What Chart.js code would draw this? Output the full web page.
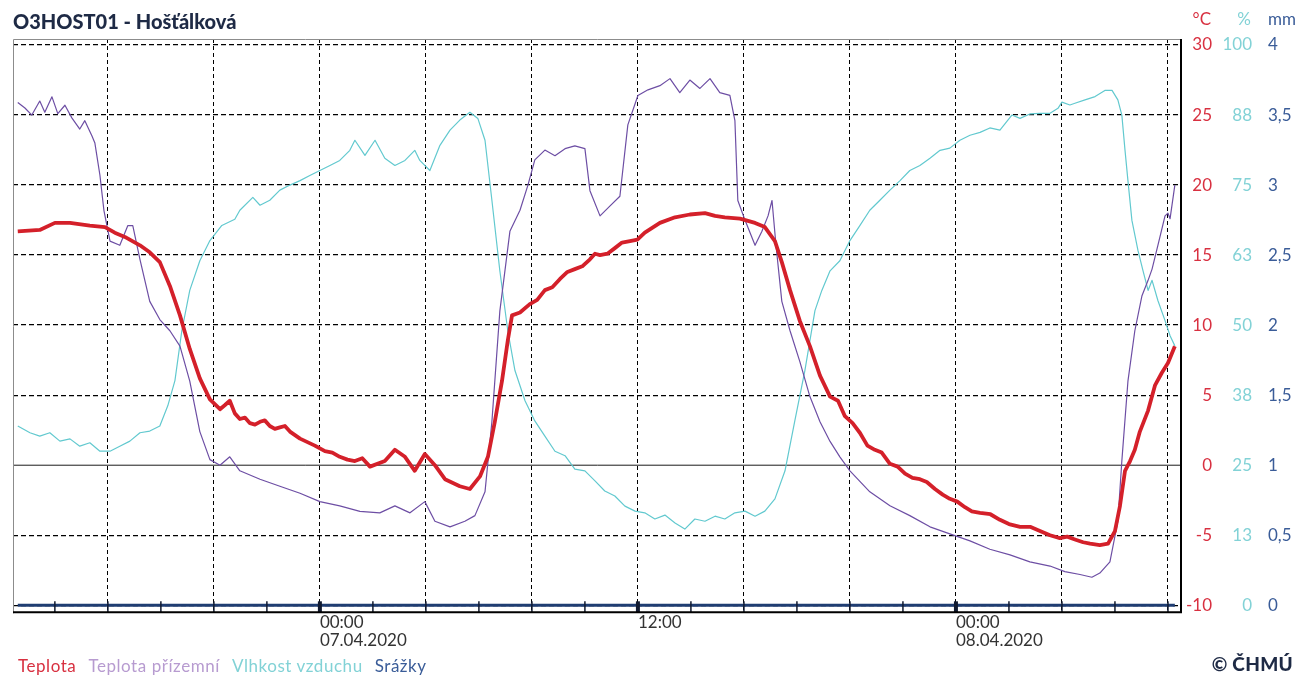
<!DOCTYPE html>
<html>
<head>
<meta charset="utf-8">
<script src="https://cdn.jsdelivr.net/npm/chart.js@4.4.1/dist/chart.umd.min.js"></script>
<style>
  html, body { margin: 0; padding: 0; background: #fff; }
  #wrap { position: relative; width: 1298px; height: 675px; overflow: hidden; }
  #c { position: absolute; left: 0; top: 0; }
  #legend { position: absolute; left: 18px; top: 655px; font: 17px Lato, sans-serif; letter-spacing: 0.55px; white-space: nowrap; }
  #legend span { margin-right: 12px; }
  #copy { position: absolute; right: 5px; top: 652px; font: 900 19px Lato, sans-serif; color: #1e2a45; letter-spacing: 0.3px; }
</style>
</head>
<body>
<div id="wrap">
  <canvas id="c" width="1298" height="675"></canvas>
  <div id="legend"></div>
  <div id="copy">© ČHMÚ</div>
</div>
<script>
// ---- Data (time in hours relative to 07.04.2020 00:00) ----
const titleText = 'O3HOST01 - Hošťálková';
const seriesNames = ['Teplota', 'Teplota přízemní', 'Vlhkost vzduchu', 'Srážky'];

const tempTimes = [-11.40,-10.57,-10.00,-9.43,-8.68,-8.11,-7.74,-7.36,-6.79,-6.42,-6.04,-5.66,-5.28,-4.91,-4.53,-4.15,-3.77,-3.58,-3.40,-3.21,-3.02,-2.83,-2.64,-2.45,-2.26,-2.08,-1.89,-1.70,-1.51,-1.32,-1.13,-0.75,-0.19,0.19,0.47,0.75,1.04,1.32,1.60,1.89,2.45,2.83,3.21,3.58,3.96,4.34,4.72,5.28,5.66,6.04,6.34,6.60,6.87,7.09,7.25,7.55,7.92,8.20,8.49,8.77,9.06,9.34,9.62,9.90,10.19,10.38,10.57,10.85,11.13,11.40,11.70,11.98,12.26,12.83,13.40,13.96,14.53,14.91,15.28,15.85,16.42,16.79,17.17,17.43,17.74,18.11,18.49,18.87,19.25,19.55,19.81,20.10,20.38,20.66,20.94,21.20,21.51,21.80,22.08,22.36,22.64,22.90,23.21,23.50,23.77,24.05,24.34,24.60,24.91,25.30,25.66,26.00,26.42,26.80,27.17,27.55,27.92,28.20,28.49,28.80,29.06,29.43,29.74,30.00,30.19,30.38,30.57,30.75,30.94,31.25,31.51,31.77,32.00,32.26];
const tempValues = [16.7,16.8,17.3,17.3,17.1,17.0,16.6,16.3,15.7,15.2,14.5,12.8,10.7,8.3,6.2,4.7,4.0,4.3,4.6,3.7,3.3,3.4,3.0,2.9,3.1,3.2,2.8,2.6,2.7,2.8,2.4,1.9,1.4,1.0,0.9,0.6,0.4,0.3,0.5,-0.1,0.3,1.1,0.6,-0.4,0.8,0.0,-1.0,-1.5,-1.7,-0.8,0.6,3.1,6.0,8.9,10.7,10.9,11.5,11.8,12.5,12.7,13.3,13.8,14.0,14.2,14.7,15.1,15.0,15.1,15.5,15.9,16.0,16.1,16.6,17.3,17.7,17.9,18.0,17.8,17.7,17.6,17.3,17.0,16.0,14.5,12.5,10.3,8.5,6.4,4.9,4.6,3.5,3.0,2.3,1.4,1.1,0.9,0.1,-0.1,-0.6,-0.9,-1.0,-1.2,-1.7,-2.1,-2.4,-2.6,-3.0,-3.3,-3.4,-3.5,-3.9,-4.2,-4.4,-4.4,-4.7,-5.0,-5.2,-5.1,-5.3,-5.5,-5.6,-5.7,-5.6,-4.7,-2.9,-0.4,0.3,1.1,2.4,3.9,5.7,6.6,7.3,8.5];

const groundTimes = [-11.40,-11.13,-10.87,-10.57,-10.38,-10.11,-9.89,-9.62,-9.36,-9.06,-8.87,-8.60,-8.49,-8.30,-8.15,-7.92,-7.55,-7.25,-7.06,-6.79,-6.42,-6.04,-5.66,-5.28,-4.91,-4.53,-4.15,-3.77,-3.40,-3.02,-2.26,-1.51,-0.75,0.00,0.75,1.51,2.26,2.83,3.40,3.96,4.34,4.91,5.47,5.85,6.23,6.49,6.79,7.17,7.55,7.85,8.11,8.49,8.87,9.25,9.62,10.00,10.19,10.57,10.94,11.32,11.62,12.00,12.38,12.83,13.21,13.58,13.96,14.34,14.72,15.09,15.47,15.66,15.77,16.04,16.42,16.68,16.91,17.06,17.21,17.43,17.74,18.11,18.49,18.87,19.25,19.62,20.00,20.75,21.51,22.26,23.02,23.77,24.53,25.28,26.04,26.79,27.55,28.11,28.68,29.13,29.43,29.81,30.11,30.26,30.49,30.75,31.02,31.25,31.40,31.62,31.89,32.00,32.08,32.26];
const groundValues = [25.9,25.5,25.0,26.0,25.2,26.3,25.1,25.7,24.8,24.0,24.6,23.5,23.0,20.7,18.2,16.0,15.7,17.1,17.1,14.7,11.7,10.4,9.6,8.5,6.0,2.4,0.4,0.0,0.6,-0.4,-1.0,-1.5,-2.0,-2.6,-2.9,-3.3,-3.4,-2.9,-3.4,-2.6,-4.0,-4.4,-4.0,-3.6,-1.9,3.1,11.0,16.7,18.2,20.0,21.8,22.5,22.1,22.6,22.8,22.6,19.6,17.8,18.5,19.2,24.3,26.4,26.8,27.1,27.6,26.6,27.5,26.9,27.6,26.6,26.4,24.6,18.9,17.5,15.7,16.7,17.8,18.9,15.7,11.7,9.6,7.4,4.9,3.1,1.7,0.6,-0.4,-1.9,-2.9,-3.6,-4.4,-4.9,-5.4,-6.0,-6.4,-6.9,-7.2,-7.6,-7.8,-8.0,-7.7,-6.9,-4.0,0.3,6.0,9.6,12.1,13.2,14.0,15.7,17.8,18.0,17.6,20.0];

const humTimes = [-11.40,-10.94,-10.57,-10.19,-9.81,-9.43,-9.06,-8.68,-8.30,-7.92,-7.55,-7.17,-6.79,-6.42,-6.04,-5.74,-5.47,-5.21,-4.91,-4.53,-4.15,-3.70,-3.21,-3.02,-2.53,-2.26,-1.89,-1.51,-1.13,-0.75,-0.38,0.00,0.38,0.75,1.13,1.32,1.70,2.08,2.45,2.83,3.21,3.58,3.77,4.15,4.53,4.91,5.28,5.66,5.96,6.23,6.49,6.79,7.09,7.36,7.74,8.11,8.49,8.87,9.25,9.62,10.00,10.38,10.75,11.13,11.51,11.89,12.26,12.64,13.02,13.40,13.77,14.15,14.53,14.91,15.28,15.66,16.04,16.42,16.79,17.17,17.55,17.92,18.30,18.68,18.94,19.25,19.62,20.00,20.38,20.75,21.13,21.51,21.89,22.26,22.64,23.02,23.40,23.77,24.15,24.53,24.91,25.28,25.66,26.11,26.42,26.79,27.17,27.55,27.85,28.00,28.30,28.49,28.87,29.25,29.62,29.89,30.11,30.26,30.38,30.49,30.64,30.87,31.06,31.25,31.40,31.62,31.89,32.08,32.26];
const humValues = [32.0,30.8,30.2,30.8,29.3,29.7,28.4,29.0,27.5,27.5,28.4,29.3,30.8,31.1,32.0,35.6,40.1,49.0,56.2,61.5,65.1,67.8,68.9,70.5,72.8,71.4,72.3,74.1,75.0,75.8,76.7,77.6,78.5,79.4,81.2,83.0,80.3,83.0,79.8,78.5,79.4,81.2,79.4,77.6,82.1,84.8,86.6,88.0,86.9,83.0,72.3,59.7,49.0,41.9,36.5,32.9,30.2,27.5,26.7,24.3,24.0,22.2,20.4,19.5,17.7,16.8,16.5,15.4,16.1,14.7,13.6,15.4,15.0,15.9,15.4,16.5,16.8,15.9,16.8,19.0,24.0,32.9,41.9,52.6,56.2,59.7,61.5,65.1,67.8,70.5,72.3,74.1,75.8,77.6,78.5,79.8,81.2,81.6,83.0,83.9,84.4,85.2,84.8,87.5,86.9,87.7,87.8,87.8,88.7,89.8,89.3,89.6,90.2,90.8,91.9,91.9,90.2,87.5,81.2,75.8,68.7,63.3,59.7,56.2,58.0,54.4,50.8,48.1,46.3];

const rainTimes = [-11.40,-8,-4,0,4,8,12,16,20,24,28,32.26];
const rainValues = [0,0,0,0,0,0,0,0,0,0,0,0];

const tempTicks = [-10,-5,0,5,10,15,20,25,30];
const humTicks = [0,12.5,25,37.5,50,62.5,75,87.5,100];
const rainTicks = [0,0.5,1,1.5,2,2.5,3,3.5,4];
const timeTicks = [-10,-8,-6,-4,-2,0,2,4,6,8,10,12,14,16,18,20,22,24,26,28,30,32];
const timeLabels = { 0: ['00:00', '07.04.2020'], 12: '12:00', 24: ['00:00', '08.04.2020'] };

// ---- Styling ----
const C_TEMP = '#d4202a', C_GROUND = '#6d4ea4', C_HUM = '#62c9cf', C_RAIN = '#1f3d72';
const L_TEMP = '#d83040', L_GROUND = '#b79bd0', L_HUM = '#82d2d6', L_RAIN = '#3a5c98';
const FONT = 'Lato, "Noto Sans", sans-serif';

function padRange(lo, hi) {
  const span = hi - lo;
  return { min: lo - span * 8 / 559, max: hi + span * 6 / 559 };
}
const rT = padRange(-10, 30), rH = padRange(0, 100), rR = padRange(0, 4);
const pts = (ts, vs) => ts.map((t, i) => ({ x: t, y: vs[i] }));

// legend (HTML text)
const legendColors = [L_TEMP, L_GROUND, L_HUM, L_RAIN];
document.getElementById('legend').innerHTML = seriesNames.map((n, i) =>
  `<span style="color:${legendColors[i]}">${n}</span>`).join('');

const extras = {
  id: 'extras',
  beforeDatasetsDraw(chart) {
    const { ctx, chartArea: a } = chart;
    const y0 = chart.scales.yT.getPixelForValue(0);
    ctx.save();
    ctx.strokeStyle = '#1a1a1a';
    ctx.lineWidth = 1;
    ctx.beginPath(); ctx.moveTo(a.left, y0); ctx.lineTo(a.right, y0); ctx.stroke();
    ctx.restore();
  },
  afterDatasetsDraw(chart) {
    const { ctx, chartArea: a } = chart;
    const xs = chart.scales.x;
    ctx.save();
    ctx.strokeStyle = '#111a30';
    xs.ticks.forEach(t => {
      const px = xs.getPixelForValue(t.value);
      ctx.lineWidth = (t.value % 12 === 0) ? 4 : 1.5;
      ctx.beginPath(); ctx.moveTo(px, a.bottom - 12); ctx.lineTo(px, a.bottom - 1); ctx.stroke();
    });
    // frame
    ctx.lineWidth = 1;
    ctx.strokeStyle = '#8c8c8c';
    ctx.beginPath(); ctx.moveTo(a.left + 0.5, a.bottom); ctx.lineTo(a.left + 0.5, a.top + 0.5); ctx.lineTo(a.right, a.top + 0.5); ctx.stroke();
    ctx.lineWidth = 2;
    ctx.strokeStyle = '#000';
    ctx.beginPath(); ctx.moveTo(a.right - 1, a.top); ctx.lineTo(a.right - 1, a.bottom - 1); ctx.lineTo(a.left, a.bottom - 1); ctx.stroke();
    ctx.restore();
  },
  afterDraw(chart) {
    const ctx = chart.ctx;
    ctx.save();
    ctx.font = '17px ' + FONT;
    ctx.textBaseline = 'middle';
    ctx.textAlign = 'right';
    ctx.fillStyle = L_TEMP; ctx.fillText('°C', 1211, 20);
    ctx.fillStyle = L_HUM; ctx.fillText('%', 1251, 20);
    ctx.textAlign = 'left';
    ctx.fillStyle = L_RAIN; ctx.fillText('mm', 1268, 20);
    ctx.restore();
  }
};

const setTicks = (arr) => (scale) => { scale.ticks = arr.map(v => ({ value: v })); };
const tickFont = { family: FONT, size: 17 };

new Chart(document.getElementById('c'), {
  type: 'line',
  data: {
    datasets: [
      { label: seriesNames[0], data: pts(tempTimes, tempValues), yAxisID: 'yT', borderColor: C_TEMP, borderWidth: 3.8, order: 0 },
      { label: seriesNames[3], data: pts(rainTimes, rainValues), yAxisID: 'yR', borderColor: C_RAIN, borderWidth: 3, order: 1 },
      { label: seriesNames[1], data: pts(groundTimes, groundValues), yAxisID: 'yT', borderColor: C_GROUND, borderWidth: 1.2, order: 2 },
      { label: seriesNames[2], data: pts(humTimes, humValues), yAxisID: 'yH', borderColor: C_HUM, borderWidth: 1.2, order: 3 }
    ]
  },
  options: {
    responsive: false,
    animation: false,
    devicePixelRatio: 1,
    elements: { point: { radius: 0 }, line: { tension: 0, borderJoinStyle: 'round' } },
    layout: { padding: { left: 13, right: 0, top: 0, bottom: 26 } },
    plugins: {
      legend: { display: false },
      tooltip: { enabled: false },
      title: {
        display: true, text: titleText, align: 'start', color: '#1e2a45',
        font: { family: FONT, size: 20, weight: '900', lineHeight: 1.1 },
        padding: { top: 12, bottom: 5 }
      }
    },
    scales: {
      x: {
        type: 'linear', position: 'bottom', min: -11.58, max: 32.53,
        afterBuildTicks: setTicks(timeTicks),
        ticks: {
          autoSkip: false, maxRotation: 0, align: 'start', padding: 0, color: '#333',
          font: { family: FONT, size: 17, lineHeight: 1.05 },
          callback: (v) => timeLabels[v] || ''
        },
        grid: { color: (c) => (c.tick && c.tick.value % 4 === 0) ? '#000' : 'rgba(0,0,0,0)', lineWidth: 1, drawTicks: false, tickLength: 0 },
        border: { display: false, dash: [4, 3] }
      },
      yT: {
        position: 'right', min: rT.min, max: rT.max,
        afterBuildTicks: setTicks(tempTicks),
        afterFit: (s) => { s.width = 30; },
        ticks: { color: L_TEMP, crossAlign: 'far', padding: 0, font: tickFont, callback: (v) => String(v) },
        grid: { color: (c) => (c.tick && c.tick.value === 0) ? 'rgba(0,0,0,0)' : '#000', lineWidth: 1.3, drawTicks: false, tickLength: 0 },
        border: { display: false, dash: [5, 3] }
      },
      yH: {
        position: 'right', min: rH.min, max: rH.max,
        afterBuildTicks: setTicks(humTicks),
        afterFit: (s) => { s.width = 40; },
        ticks: { color: L_HUM, crossAlign: 'far', padding: 0, font: tickFont, callback: (v) => String(Math.round(v)) },
        grid: { display: false, drawTicks: false, tickLength: 0 },
        border: { display: false }
      },
      yR: {
        position: 'right', min: rR.min, max: rR.max,
        afterBuildTicks: setTicks(rainTicks),
        afterFit: (s) => { s.width = 46; },
        ticks: { color: L_RAIN, crossAlign: 'near', padding: 16, font: tickFont, callback: (v) => String(v).replace('.', ',') },
        grid: { display: false, drawTicks: false, tickLength: 0 },
        border: { display: false }
      }
    }
  },
  plugins: [extras]
});
</script>
</body>
</html>
